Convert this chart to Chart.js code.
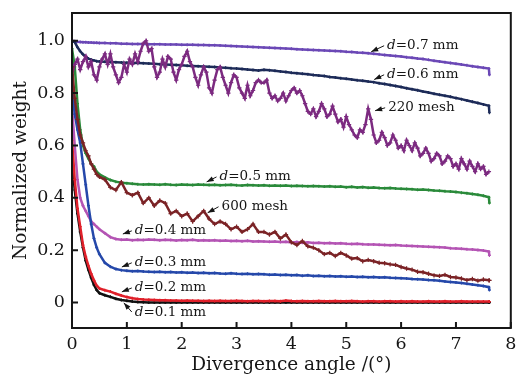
<!DOCTYPE html>
<html>
<head>
<meta charset="utf-8">
<script src="https://cdn.jsdelivr.net/npm/chart.js@4.4.0/dist/chart.umd.min.js"></script>
<style>
  body { margin: 0; background: #fff; }
</style>
</head>
<body>
<canvas id="weightChart" width="516" height="376"></canvas>
<script>
// divergence angle (deg) shared by the smooth curves, fine steps near the drop
const angle = [
  0, 0.05, 0.1, 0.15, 0.2, 0.25, 0.3, 0.35, 0.4, 0.45,
  0.5, 0.6, 0.7, 0.8, 0.9, 1.0, 1.1, 1.2, 1.3, 1.4,
  1.5, 1.6, 1.7, 1.8, 1.9, 2.0, 2.1, 2.2, 2.3, 2.4,
  2.5, 2.6, 2.7, 2.8, 2.9, 3.0, 3.1, 3.2, 3.3, 3.4,
  3.5, 3.6, 3.7, 3.8, 3.9, 4.0, 4.1, 4.2, 4.3, 4.4,
  4.5, 4.6, 4.7, 4.8, 4.9, 5.0, 5.1, 5.2, 5.3, 5.4,
  5.5, 5.6, 5.7, 5.8, 5.9, 6.0, 6.1, 6.2, 6.3, 6.4,
  6.5, 6.6, 6.7, 6.8, 6.9, 7.0, 7.1, 7.2, 7.3, 7.4,
  7.5, 7.6, 7.61
];

// 0.05 deg steps for the noisy 220 mesh run
const angleFine = [
  0, 0.05, 0.1, 0.15, 0.2, 0.25, 0.3, 0.35, 0.4, 0.45,
  0.5, 0.55, 0.6, 0.65, 0.7, 0.75, 0.8, 0.85, 0.9, 0.95,
  1.0, 1.05, 1.1, 1.15, 1.2, 1.25, 1.3, 1.35, 1.4, 1.45,
  1.5, 1.55, 1.6, 1.65, 1.7, 1.75, 1.8, 1.85, 1.9, 1.95,
  2.0, 2.05, 2.1, 2.15, 2.2, 2.25, 2.3, 2.35, 2.4, 2.45,
  2.5, 2.55, 2.6, 2.65, 2.7, 2.75, 2.8, 2.85, 2.9, 2.95,
  3.0, 3.05, 3.1, 3.15, 3.2, 3.25, 3.3, 3.35, 3.4, 3.45,
  3.5, 3.55, 3.6, 3.65, 3.7, 3.75, 3.8, 3.85, 3.9, 3.95,
  4.0, 4.05, 4.1, 4.15, 4.2, 4.25, 4.3, 4.35, 4.4, 4.45,
  4.5, 4.55, 4.6, 4.65, 4.7, 4.75, 4.8, 4.85, 4.9, 4.95,
  5.0, 5.05, 5.1, 5.15, 5.2, 5.25, 5.3, 5.35, 5.4, 5.45,
  5.5, 5.55, 5.6, 5.65, 5.7, 5.75, 5.8, 5.85, 5.9, 5.95,
  6.0, 6.05, 6.1, 6.15, 6.2, 6.25, 6.3, 6.35, 6.4, 6.45,
  6.5, 6.55, 6.6, 6.65, 6.7, 6.75, 6.8, 6.85, 6.9, 6.95,
  7.0, 7.05, 7.1, 7.15, 7.2, 7.25, 7.3, 7.35, 7.4, 7.45,
  7.5, 7.55, 7.6
];

const d07 = [
  1.0, 0.998, 0.996, 0.995, 0.994, 0.994, 0.993, 0.993, 0.992, 0.992,
  0.991, 0.991, 0.990, 0.990, 0.989, 0.989, 0.988, 0.988, 0.988, 0.987,
  0.987, 0.987, 0.986, 0.986, 0.986, 0.985, 0.985, 0.985, 0.984, 0.984,
  0.983, 0.983, 0.982, 0.981, 0.980, 0.979, 0.978, 0.977, 0.976, 0.975,
  0.974, 0.973, 0.972, 0.971, 0.970, 0.969, 0.968, 0.967, 0.966, 0.965,
  0.964, 0.963, 0.962, 0.961, 0.960, 0.958, 0.957, 0.955, 0.954, 0.952,
  0.950, 0.948, 0.946, 0.944, 0.942, 0.940, 0.937, 0.935, 0.932, 0.930,
  0.927, 0.924, 0.921, 0.918, 0.915, 0.912, 0.909, 0.906, 0.903, 0.900,
  0.897, 0.894, 0.87
];

const d06 = [
  1.0, 0.995, 0.975, 0.960, 0.948, 0.938, 0.932, 0.928, 0.925, 0.922,
  0.921, 0.920, 0.919, 0.918, 0.917, 0.916, 0.915, 0.915, 0.914, 0.913,
  0.912, 0.910, 0.909, 0.908, 0.907, 0.906, 0.905, 0.904, 0.903, 0.902,
  0.901, 0.900, 0.898, 0.897, 0.895, 0.894, 0.892, 0.890, 0.888, 0.886,
  0.889, 0.887, 0.885, 0.883, 0.881, 0.878, 0.876, 0.874, 0.872, 0.869,
  0.867, 0.865, 0.862, 0.860, 0.857, 0.855, 0.852, 0.849, 0.847, 0.844,
  0.842, 0.838, 0.835, 0.831, 0.827, 0.823, 0.819, 0.815, 0.811, 0.806,
  0.802, 0.798, 0.794, 0.790, 0.786, 0.781, 0.777, 0.772, 0.767, 0.762,
  0.757, 0.752, 0.725
];

// on angleFine
const mesh220 = [
  0.87, 0.91, 0.93, 0.89, 0.92, 0.94, 0.90, 0.92, 0.87, 0.85,
  0.90, 0.93, 0.95, 0.91, 0.95, 0.90, 0.87, 0.84, 0.86, 0.91,
  0.88, 0.93, 0.91, 0.95, 0.92, 0.96, 0.99, 1.00, 0.96, 0.97,
  0.90, 0.86, 0.88, 0.93, 0.90, 0.94, 0.93, 0.88, 0.85, 0.89,
  0.91, 0.94, 0.96, 0.92, 0.90, 0.86, 0.83, 0.87, 0.90, 0.88,
  0.82, 0.80, 0.85, 0.89, 0.90, 0.86, 0.83, 0.80, 0.84, 0.87,
  0.86, 0.82, 0.80, 0.78, 0.83, 0.79, 0.81, 0.84, 0.85, 0.84,
  0.84, 0.85, 0.80, 0.78, 0.79, 0.77, 0.78, 0.80, 0.77, 0.79,
  0.81, 0.82, 0.80, 0.81, 0.79, 0.76, 0.73, 0.72, 0.74, 0.71,
  0.73, 0.76, 0.74, 0.71, 0.72, 0.75, 0.72, 0.69, 0.70, 0.67,
  0.71, 0.68, 0.66, 0.64, 0.63, 0.66, 0.65, 0.68, 0.74, 0.70,
  0.64, 0.61, 0.62, 0.65, 0.63, 0.60, 0.61, 0.64, 0.62, 0.59,
  0.60, 0.58, 0.62, 0.60, 0.58, 0.61, 0.59, 0.56, 0.57, 0.59,
  0.57, 0.54, 0.55, 0.57, 0.56, 0.53, 0.54, 0.56, 0.55, 0.52,
  0.53, 0.51, 0.55, 0.53, 0.51, 0.54, 0.52, 0.50, 0.53, 0.51,
  0.52, 0.49, 0.50
];

const d05 = [
  0.97, 0.90, 0.76, 0.66, 0.60, 0.57, 0.55, 0.53, 0.52, 0.50,
  0.490, 0.478, 0.468, 0.462, 0.458, 0.456, 0.454, 0.452, 0.451, 0.452,
  0.451, 0.450, 0.452, 0.450, 0.449, 0.451, 0.450, 0.449, 0.451, 0.450,
  0.449, 0.450, 0.448, 0.449, 0.450, 0.448, 0.447, 0.449, 0.448, 0.447,
  0.448, 0.446, 0.447, 0.446, 0.447, 0.445, 0.446, 0.445, 0.444, 0.445,
  0.444, 0.443, 0.444, 0.442, 0.443, 0.441, 0.442, 0.440, 0.441, 0.439,
  0.440, 0.438, 0.437, 0.438, 0.436, 0.435, 0.434, 0.433, 0.431, 0.432,
  0.430, 0.428, 0.427, 0.425, 0.424, 0.422, 0.420, 0.418, 0.415, 0.412,
  0.408, 0.402, 0.38
];

const mesh600 = [
  0.90, 0.78, 0.70, 0.64, 0.61, 0.58, 0.56, 0.53, 0.51, 0.49,
  0.48, 0.47, 0.44, 0.43, 0.46, 0.42, 0.41, 0.42, 0.38, 0.40,
  0.37, 0.39, 0.38, 0.34, 0.35, 0.33, 0.34, 0.31, 0.33, 0.35,
  0.32, 0.30, 0.31, 0.30, 0.28, 0.29, 0.27, 0.28, 0.30, 0.27,
  0.27, 0.26, 0.27, 0.245, 0.26, 0.23, 0.22, 0.235, 0.215, 0.21,
  0.20, 0.185, 0.19, 0.178, 0.19, 0.18, 0.168, 0.17, 0.158, 0.163,
  0.158, 0.152, 0.15, 0.146, 0.144, 0.136, 0.13, 0.126, 0.118, 0.116,
  0.11, 0.104, 0.102, 0.106, 0.098, 0.096, 0.092, 0.086, 0.09, 0.084,
  0.088, 0.085, 0.085
];

const d04 = [
  0.75, 0.60, 0.47, 0.40, 0.37, 0.35, 0.33, 0.31, 0.30, 0.29,
  0.280, 0.265, 0.250, 0.243, 0.240, 0.241, 0.238, 0.240, 0.239, 0.241,
  0.240, 0.238, 0.240, 0.239, 0.237, 0.239, 0.238, 0.240, 0.237, 0.238,
  0.237, 0.238, 0.236, 0.237, 0.235, 0.236, 0.234, 0.236, 0.233, 0.234,
  0.233, 0.232, 0.233, 0.231, 0.232, 0.230, 0.231, 0.229, 0.230, 0.228,
  0.229, 0.227, 0.228, 0.226, 0.227, 0.225, 0.224, 0.225, 0.223, 0.222,
  0.222, 0.221, 0.220, 0.219, 0.220, 0.218, 0.217, 0.216, 0.215, 0.214,
  0.213, 0.212, 0.211, 0.210, 0.208, 0.207, 0.206, 0.204, 0.203, 0.201,
  0.199, 0.195, 0.18
];

const d03 = [
  0.82, 0.72, 0.66, 0.61, 0.53, 0.45, 0.37, 0.30, 0.245, 0.21,
  0.185, 0.152, 0.137, 0.128, 0.124, 0.122, 0.120, 0.121, 0.119, 0.118,
  0.117, 0.118, 0.116, 0.117, 0.115, 0.116, 0.114, 0.115, 0.113, 0.114,
  0.112, 0.113, 0.111, 0.110, 0.112, 0.110, 0.109, 0.110, 0.108, 0.109,
  0.108, 0.106, 0.107, 0.105, 0.106, 0.104, 0.105, 0.103, 0.104, 0.102,
  0.103, 0.101, 0.102, 0.100, 0.101, 0.099, 0.100, 0.098, 0.099, 0.097,
  0.098, 0.096, 0.097, 0.095, 0.094, 0.093, 0.092, 0.090, 0.089, 0.088,
  0.086, 0.085, 0.083, 0.081, 0.079, 0.077, 0.075, 0.072, 0.069, 0.066,
  0.063, 0.059, 0.048
];

const d02 = [
  0.62, 0.47, 0.36, 0.29, 0.22, 0.175, 0.14, 0.11, 0.085, 0.065,
  0.054, 0.047, 0.042, 0.034, 0.027, 0.021, 0.017, 0.014, 0.012, 0.011,
  0.010, 0.009, 0.009, 0.008, 0.008, 0.007, 0.008, 0.007, 0.007, 0.006,
  0.007, 0.006, 0.007, 0.006, 0.006, 0.007, 0.006, 0.005, 0.006, 0.006,
  0.005, 0.006, 0.006, 0.005, 0.008, 0.006, 0.005, 0.006, 0.005, 0.005,
  0.006, 0.005, 0.005, 0.006, 0.005, 0.005, 0.006, 0.005, 0.004, 0.005,
  0.005, 0.004, 0.005, 0.005, 0.004, 0.005, 0.004, 0.005, 0.004, 0.004,
  0.005, 0.004, 0.004, 0.005, 0.004, 0.004, 0.005, 0.004, 0.004, 0.004,
  0.004, 0.004, 0.004
];

const d01 = [
  0.55, 0.43, 0.34, 0.27, 0.21, 0.16, 0.125, 0.095, 0.068, 0.048,
  0.036, 0.028, 0.022, 0.015, 0.010, 0.007, 0.004, 0.002, 0.001, 0,
  0, 0, 0, 0, 0, 0, 0, 0, 0, 0,
  0, 0, 0, 0, 0, 0, 0, 0, 0, 0,
  0, 0, 0, 0, 0, 0, 0, 0, 0, 0,
  0, 0, 0, 0, 0, 0, 0, 0, 0, 0,
  0, 0, 0, 0, 0, 0, 0, 0, 0, 0,
  0, 0, 0, 0, 0, 0, 0, 0, 0, 0,
  0, 0, 0
];

const xTicks = [0, 1, 2, 3, 4, 5, 6, 7, 8];
const yTicks = [0, 0.2, 0.4, 0.6, 0.8, 1.0];

// curve labels: text anchor and arrow tip, in axis units
const notes = [
  { em: 'd', text: '=0.7 mm', at: [5.745, 0.981], tip: [5.455, 0.958] },
  { em: 'd', text: '=0.6 mm', at: [5.745, 0.870], tip: [5.51, 0.852] },
  { em: '',  text: '220 mesh', at: [5.764, 0.744], tip: [5.527, 0.733] },
  { em: 'd', text: '=0.5 mm', at: [2.69, 0.480], tip: [2.455, 0.461] },
  { em: '',  text: '600 mesh', at: [2.727, 0.366], tip: [2.473, 0.343] },
  { em: 'd', text: '=0.4 mm', at: [1.145, 0.274], tip: [0.927, 0.262] },
  { em: 'd', text: '=0.3 mm', at: [1.145, 0.152], tip: [0.909, 0.136] },
  { em: 'd', text: '=0.2 mm', at: [1.145, 0.056], tip: [0.909, 0.041] },
  { em: 'd', text: '=0.1 mm', at: [1.145, -0.036], tip: [0.945, -0.001] }
];

const serif = "'DejaVu Serif', 'Liberation Serif', serif";
const ink = '#161616';

function pairs(xs, ys) {
  return ys.map((v, i) => ({ x: xs[i], y: v }));
}

function series(xs, ys, color, r) {
  return {
    data: pairs(xs, ys),
    borderColor: color,
    backgroundColor: color,
    borderWidth: 2.5,
    pointStyle: 'cross',
    pointRadius: r,
    pointBorderWidth: 1.2,
    tension: 0
  };
}

// first dataset ends up on top
const datasets = [
  series(angle, mesh600, '#7b2326', 2.2),
  series(angleFine, mesh220, '#7c2a80', 2.2),
  series(angle, d02, '#e0202a', 1.5),
  series(angle, d01, '#111111', 1.5),
  series(angle, d03, '#2548aa', 1.5),
  series(angle, d04, '#b454b4', 1.5),
  series(angle, d05, '#2a8a3a', 1.5),
  series(angle, d06, '#1d2b58', 1.5),
  series(angle, d07, '#6b48b6', 1.5)
];

const framePlugin = {
  id: 'frame',
  afterDraw(chart) {
    const { ctx, chartArea: a, scales } = chart;
    ctx.save();
    ctx.strokeStyle = ink;
    ctx.lineWidth = 2;
    ctx.strokeRect(a.left, a.top, a.right - a.left, a.bottom - a.top);
    // ticks point into the plot
    ctx.beginPath();
    xTicks.forEach(v => {
      const px = scales.x.getPixelForValue(v);
      ctx.moveTo(px, a.bottom);
      ctx.lineTo(px, a.bottom - 6);
    });
    yTicks.forEach(v => {
      const py = scales.y.getPixelForValue(v);
      ctx.moveTo(a.left, py);
      ctx.lineTo(a.left + 6, py);
    });
    ctx.stroke();
    ctx.restore();
  }
};

const notePlugin = {
  id: 'notes',
  afterDraw(chart) {
    const { ctx, scales } = chart;
    ctx.save();
    ctx.fillStyle = ink;
    ctx.strokeStyle = ink;
    ctx.textBaseline = 'middle';
    notes.forEach(n => {
      const x = scales.x.getPixelForValue(n.at[0]);
      const y = scales.y.getPixelForValue(n.at[1]);
      let w = 0;
      if (n.em) {
        ctx.font = 'italic 13.5px ' + serif;
        ctx.fillText(n.em, x, y);
        w = ctx.measureText(n.em).width;
      }
      ctx.font = '13.5px ' + serif;
      ctx.fillText(n.text, x + w, y);

      // arrow from the label to its curve
      const tx = scales.x.getPixelForValue(n.tip[0]);
      const ty = scales.y.getPixelForValue(n.tip[1]);
      const sx = x - 3, sy = y;
      const ang = Math.atan2(ty - sy, tx - sx);
      ctx.lineWidth = 1;
      ctx.beginPath();
      ctx.moveTo(sx, sy);
      ctx.lineTo(tx, ty);
      ctx.stroke();
      ctx.beginPath();
      ctx.moveTo(tx, ty);
      ctx.lineTo(tx - 7 * Math.cos(ang) + 2.6 * Math.sin(ang), ty - 7 * Math.sin(ang) - 2.6 * Math.cos(ang));
      ctx.lineTo(tx - 7 * Math.cos(ang) - 2.6 * Math.sin(ang), ty - 7 * Math.sin(ang) + 2.6 * Math.cos(ang));
      ctx.closePath();
      ctx.fill();
    });
    ctx.restore();
  }
};

new Chart(document.getElementById('weightChart'), {
  type: 'line',
  data: { datasets: datasets },
  options: {
    responsive: false,
    animation: false,
    layout: { padding: { top: 13, right: 4, left: 0, bottom: 0 } },
    plugins: {
      legend: { display: false },
      tooltip: { enabled: false }
    },
    scales: {
      x: {
        type: 'linear',
        min: 0,
        max: 8,
        grid: { display: false, drawTicks: false },
        border: { display: false },
        ticks: { padding: 6, color: ink, font: { family: serif, size: 17.5 } },
        title: {
          display: true,
          text: 'Divergence angle /(°)',
          color: ink,
          font: { family: serif, size: 18.5 },
          padding: { top: 0, bottom: 0 }
        },
        afterBuildTicks: s => { s.ticks = xTicks.map(v => ({ value: v })); },
        afterFit: s => { s.height = 48; s.paddingLeft = 0; s.paddingRight = 0; }
      },
      y: {
        min: -0.097,
        max: 1.106,
        grid: { display: false, drawTicks: false },
        border: { display: false },
        ticks: {
          padding: 7,
          color: ink,
          font: { family: serif, size: 17.5 },
          callback: v => (v === 0 ? '0' : v.toFixed(1))
        },
        title: {
          display: true,
          text: 'Normalized weight',
          color: ink,
          font: { family: serif, size: 18.5 },
          padding: { top: 10, bottom: 0 }
        },
        afterBuildTicks: s => { s.ticks = yTicks.map(v => ({ value: v })); },
        afterFit: s => { s.width = 72; s.paddingTop = 0; s.paddingBottom = 0; }
      }
    }
  },
  plugins: [framePlugin, notePlugin]
});
</script>
</body>
</html>
